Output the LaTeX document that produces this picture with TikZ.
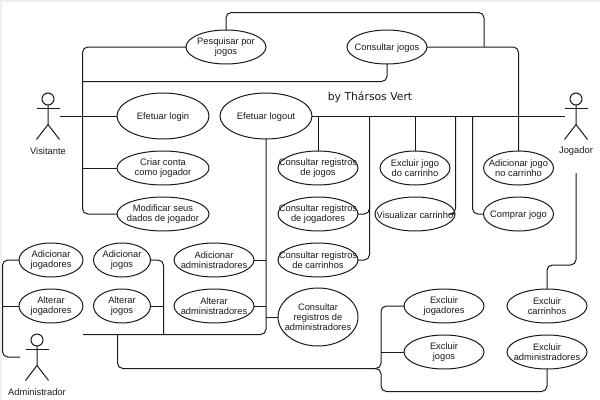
\documentclass[tikz,border=0pt]{standalone}
\usepackage{fontspec}
\setmainfont{Liberation Sans}
\newfontfamily\signfont{DejaVu Sans}
\usetikzlibrary{shapes.geometric}

\definecolor{bandgray}{HTML}{EFEFEF}
\definecolor{inkgray}{HTML}{1A1A1A}

\tikzset{
    wire/.style={draw=inkgray, line width=0.75pt, rounded corners=4pt},
    usecase/.style={ellipse, draw=inkgray, line width=0.75pt, fill=white, align=center,
        inner xsep=-30pt, inner ysep=0pt, outer sep=0pt, text=inkgray,
        minimum width=#1*0.75pt, minimum height=25.5pt,
        execute at begin node={\rule{0pt}{7pt}},
        font=\fontsize{7}{7.5}\selectfont},
    actorname/.style={text=inkgray, inner sep=0pt, font=\fontsize{7}{7.5}\selectfont},
    actor/.pic={
        \draw[inkgray, line width=0.75pt] (0,0) circle (6);
        \draw[inkgray, line width=0.75pt] (0,6) -- (0,25.5) -- (-11.5,40.5);
        \draw[inkgray, line width=0.75pt] (0,25.5) -- (11.5,40.5);
        \draw[inkgray, line width=0.75pt] (-11.5,9.5) -- (11.5,9.5);
    }
}

\begin{document}
\begin{tikzpicture}[x=0.75pt, y=-0.75pt]

    \useasboundingbox (0,0) rectangle (600,400);
    \fill[bandgray] (0,0) rectangle (600,400);
    \fill[white] (2,2) rectangle (600,400);

    % junctions and free ends
    \coordinate (visitanteEnd) at (60,116);
    \coordinate (visitanteTrunk) at (82.5,116);
    \coordinate (criarJoin) at (82.5,168);
    \coordinate (buscaJoin) at (82.5,81.5);
    \coordinate (topoCanto) at (300,12.5);
    \coordinate (topoJoin) at (484,47);
    \coordinate (jogadorEnd) at (565,116);
    \coordinate (jogadorBaixo) at (576,173);
    \coordinate (jogadorDobra) at (576,265);
    \coordinate (regJoin) at (318,116);
    \coordinate (regBus) at (369.5,116);
    \coordinate (regBusJogadores) at (369.5,200);
    \coordinate (exclJoin) at (415,116);
    \coordinate (visuJoin) at (455.5,116);
    \coordinate (compraJoin) at (472.5,116);
    \coordinate (adminEnd) at (20,357);
    \coordinate (adminTrunk) at (2.5,306);
    \coordinate (adminLinha) at (83,334.5);
    \coordinate (jogosJoin) at (163.5,334.5);
    \coordinate (jogosAlt) at (163.5,306);
    \coordinate (baixoJoin) at (117.5,334.5);
    \coordinate (baixoEsq) at (117.5,368.5);
    \coordinate (baixoDir) at (381,368.5);
    \coordinate (exclTrunk) at (381,352);
    \coordinate (admAdic) at (266,260);
    \coordinate (admAlt) at (266,306);
    \coordinate (admReg) at (266,317);
    \coordinate (fundoDir) at (381,391.5);
    \coordinate (fundoIni) at (372,368.5);

    % use cases
    \node[usecase=80] (pesquisar) at (226,47) {Pesquisar por\\jogos};
    \node[usecase=80] (consultar) at (387,47) {Consultar jogos};
    \node[usecase=92, minimum height=34.5pt] (login) at (163,116) {Efetuar login};
    \node[usecase=92, minimum height=34.5pt] (logout) at (266,116) {Efetuar logout};
    \node[usecase=92] (criar) at (163,168) {Criar conta\\como jogador};
    \node[usecase=92] (modificar) at (163,214) {Modificar seus\\dados de jogador};
    \node[usecase=80] (regJogos) at (318,168) {Consultar registros\\de jogos};
    \node[usecase=80] (regJogadores) at (318,214) {Consultar registros\\de jogadores};
    \node[usecase=80] (regCarrinhos) at (318,260) {Consultar registros\\de carrinhos};
    \node[usecase=70] (excluirJogo) at (415,168) {Excluir jogo\\do carrinho};
    \node[usecase=80] (visualizar) at (415,214) {Visualizar carrinho};
    \node[usecase=70] (adicionarJogo) at (518.5,168) {Adicionar jogo\\no carrinho};
    \node[usecase=70] (comprar) at (518.5,214) {Comprar jogo};
    \node[usecase=64] (adJogadores) at (51,260) {Adicionar\\jogadores};
    \node[usecase=64] (altJogadores) at (51,306) {Alterar\\jogadores};
    \node[usecase=57] (adJogos) at (122,260) {Adicionar\\jogos};
    \node[usecase=57] (altJogos) at (122,306) {Alterar\\jogos};
    \node[usecase=80] (adAdmins) at (214,260) {Adicionar\\administradores};
    \node[usecase=80] (altAdmins) at (214,306) {Alterar\\administradores};
    \node[usecase=80, minimum height=43.5pt] (regAdmins) at (318,317) {Consultar\\registros de\\administradores};
    \node[usecase=80] (exJogadores) at (444,306) {Excluir\\jogadores};
    \node[usecase=80] (exJogos) at (444,352) {Excluir\\jogos};
    \node[usecase=80] (exCarrinhos) at (547,306) {Excluir\\carrinhos};
    \node[usecase=80] (exAdmins) at (547,352) {Excluir\\administradores};

    % connectors
    \draw[wire] (visitanteEnd) -- (login.west);
    \draw[wire] (criarJoin) -- (criar.west);
    \draw[wire] (pesquisar.west) -| (visitanteTrunk) |- (modificar.west);
    \draw[wire] (buscaJoin) -| (consultar.south);
    \draw[wire] (pesquisar.north) |- (topoCanto) -| (topoJoin);
    \draw[wire] (consultar.east) -| (adicionarJogo.north);

    \draw[wire] (jogadorEnd) -- (logout.east);
    \draw[wire] (regJoin) -- (regJogos.north);
    \draw[wire] (exclJoin) -- (excluirJogo.north);
    \draw[wire] (regBus) |- (regCarrinhos.east);
    \draw[wire] (regBusJogadores) |- (regJogadores.east);
    \draw[wire] (visuJoin) |- (visualizar.east);
    \draw[wire] (compraJoin) |- (comprar.west);
    \draw[wire] (jogadorBaixo) -- (jogadorDobra) -| (exCarrinhos.north);

    \draw[wire] (adminEnd) -| (adminTrunk) |- (adJogadores.west);
    \draw[wire] (adminTrunk) -- (altJogadores.west);
    \draw[wire] (adminLinha) -| (logout.south);
    \draw[wire] (adJogos.east) -| (jogosJoin);
    \draw[wire] (altJogos.east) -- (jogosAlt);
    \draw[wire] (adAdmins.east) -- (admAdic);
    \draw[wire] (altAdmins.east) -- (admAlt);
    \draw[wire] (admReg) -- (regAdmins.west);
    \draw[wire] (baixoJoin) -- (baixoEsq) -- (baixoDir) |- (exJogadores.west);
    \draw[wire] (exclTrunk) -- (exJogos.west);
    \draw[wire] (fundoIni) -| (fundoDir) -| (exAdmins.south);

    % the three actors
    \pic (visitante) at (48,99) {actor};
    \node[actorname] (visitanteNome) at (48,151) {Visitante};
    \pic (jogador) at (576,99) {actor};
    \node[actorname] (jogadorNome) at (576,151) {Jogador};
    \pic (administrador) at (37,340) {actor};
    \node[actorname] (administradorNome) at (37,392) {Administrador};

    \node[inkgray, inner sep=0pt, font=\signfont\fontsize{8.1}{9}\selectfont] (assinatura) at (370,97) {by Thársos Vert};

\end{tikzpicture}
\end{document}
